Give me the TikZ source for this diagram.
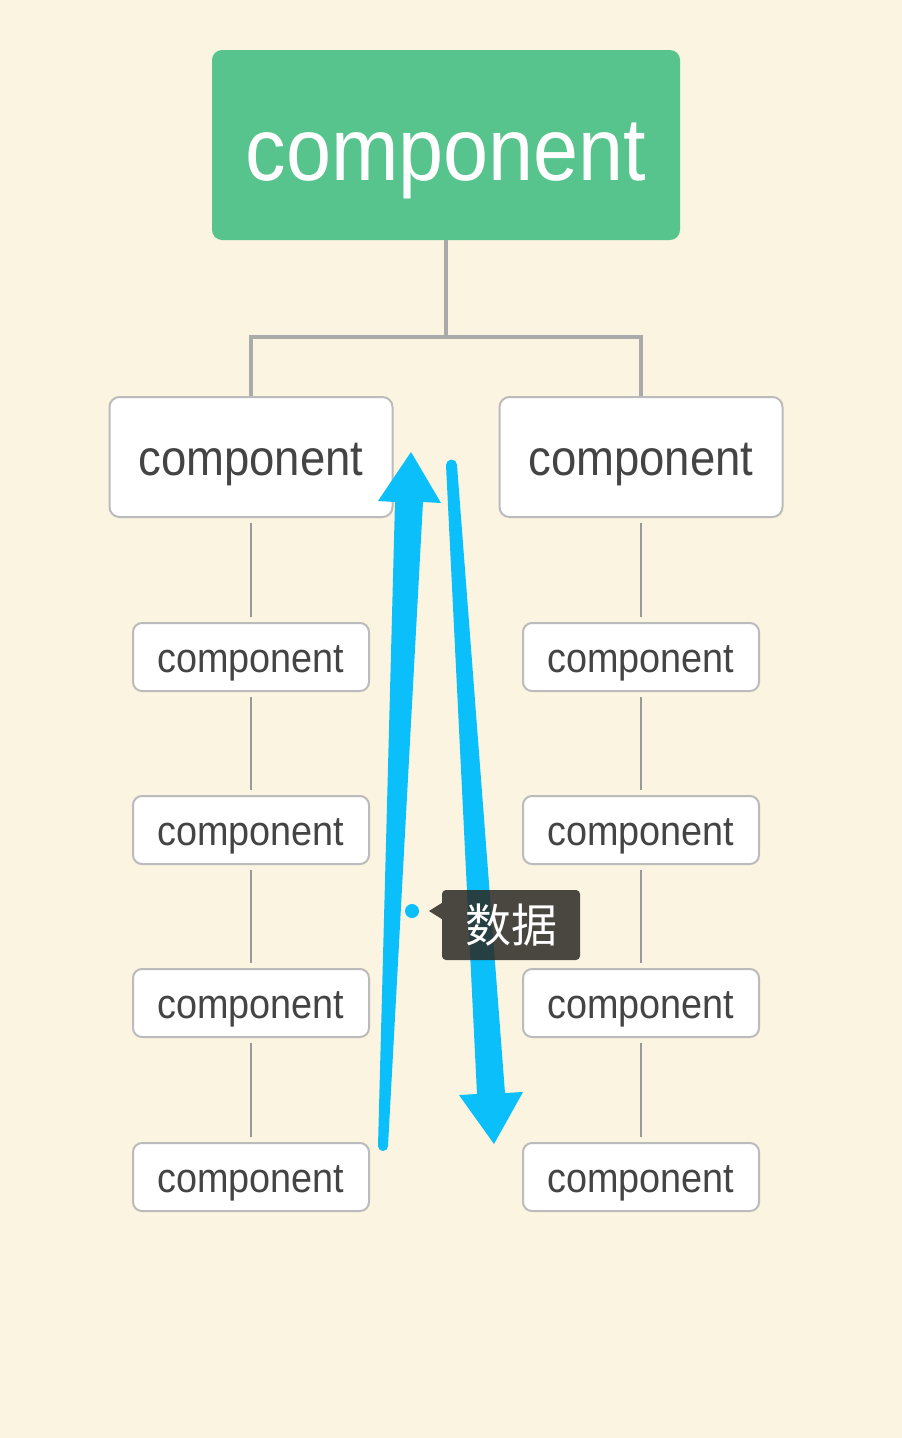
\documentclass[tikz,border=0pt]{standalone}
\usepackage{fontspec}
\setmainfont{Liberation Sans}
\newfontfamily\cjk{Noto Sans CJK SC}
\usetikzlibrary{calc}
\definecolor{bg}{RGB}{251,244,225}
\definecolor{topgreen}{RGB}{87,196,141}
\definecolor{boxline}{RGB}{187,187,187}
\definecolor{txtgray}{RGB}{68,68,68}
\definecolor{thickconn}{RGB}{170,170,170}
\definecolor{thinconn}{RGB}{153,153,153}
\definecolor{arrowblue}{RGB}{11,192,250}
\definecolor{tipdark}{RGB}{43,41,36}
\newcommand{\tallword}[1]{\scalebox{1}[1.1]{#1}}
\tikzset{
  rootbox/.style={fill=topgreen, rounded corners=10pt, minimum width=468pt, minimum height=190pt,
    inner sep=0pt, text=white, font=\fontsize{81}{90}\selectfont, text height=70pt, text depth=0pt},
  midbox/.style={fill=white, draw=boxline, line width=2pt, rounded corners=10pt, minimum width=283pt,
    minimum height=120pt, inner sep=0pt, text=txtgray, font=\fontsize{45.5}{50}\selectfont,
    text height=36pt, text depth=0pt},
  leafbox/.style={fill=white, draw=boxline, line width=2pt, rounded corners=9pt, minimum width=236pt,
    minimum height=68pt, inner sep=0pt, text=txtgray, font=\fontsize{37.8}{42}\selectfont,
    text height=30pt, text depth=0pt},
  thickline/.style={draw=thickconn, line width=4pt},
  thinline/.style={draw=thinconn, line width=2pt},
  bluearrow/.style={fill=arrowblue},
}
\begin{document}
\begin{tikzpicture}[x=1pt,y=-1pt]
\fill[bg] (0,0) rectangle (902,1438);
\useasboundingbox (0,0) rectangle (902,1438);

% root
\node[rootbox] (root) at (446,145) {\tallword{component}};
% level 2
\node[midbox] (ma) at (251,457) {\tallword{component}};
\node[midbox] (mb) at (641,457) {\tallword{component}};
% level 3
\node[leafbox] (la1) at (251,657) {\tallword{component}};
\node[leafbox] (la2) at (251,830) {\tallword{component}};
\node[leafbox] (la3) at (251,1003) {\tallword{component}};
\node[leafbox] (la4) at (251,1177) {\tallword{component}};
\node[leafbox] (lb1) at (641,657) {\tallword{component}};
\node[leafbox] (lb2) at (641,830) {\tallword{component}};
\node[leafbox] (lb3) at (641,1003) {\tallword{component}};
\node[leafbox] (lb4) at (641,1177) {\tallword{component}};

% thick connectors
\coordinate (junc) at (446,337);
\draw[thickline] (root.south) -- (junc);
\draw[thickline] (ma.north) |- (junc) -| (mb.north);

% thin connectors
\foreach \a/\b in {ma/la1,la1/la2,la2/la3,la3/la4,mb/lb1,lb1/lb2,lb2/lb3,lb3/lb4}{
  \draw[thinline] ($(\a.south)+(0,5)$) -- ($(\b.north)+(0,-5)$);
}

% up arrow (tapered)
\coordinate (upTail) at (383,1146);
\coordinate (upTip) at (411,452);
\fill[bluearrow] (378,1146) -- (395,502) -- (378,501) -- (upTip) -- (441,503) -- (423,502) -- (388,1146) -- cycle;
\fill[bluearrow] (upTail) circle (5pt);

% down arrow (tapered)
\coordinate (dnTail) at (451.5,465);
\coordinate (dnTip) at (494,1144);
\fill[bluearrow] (446,465) -- (477,1094) -- (459,1095) -- (dnTip) -- (523,1092) -- (505,1093) -- (457,465) -- cycle;
\fill[bluearrow] (dnTail) circle (5.5pt);

% label
\fill[arrowblue] (412,911) circle (7pt);
\node[fill=tipdark, fill opacity=0.85, text opacity=1, rounded corners=4pt, minimum width=138pt,
  minimum height=70pt, inner sep=0pt, text=white, font=\cjk\fontsize{46}{50}\selectfont] (lbl) at (511,925) {数据};
\fill[tipdark, fill opacity=0.85] (lbl.west |- 0,903) -- (429,911) -- (lbl.west |- 0,919) -- cycle;
\end{tikzpicture}
\end{document}
